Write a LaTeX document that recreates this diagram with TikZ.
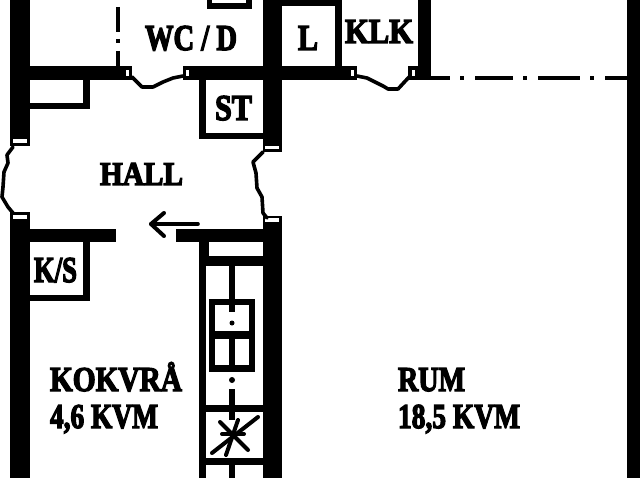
\documentclass[tikz,border=0pt]{standalone}
\usepackage{fontspec}
\setmainfont[FakeBold=4]{Liberation Serif Bold}
\newcommand{\lbl}[6]{\node[anchor=base west,inner sep=0pt,outer sep=0pt] (#1) at (#2,#3) {\resizebox{#4\unitlength}{#5\unitlength}{\rule{0pt}{.66em}\smash{#6}}};}
\setlength{\unitlength}{0.75pt}
\tikzset{
  wall/.style={fill=black,draw=none},
  hole/.style={fill=white,draw=none},
  thinl/.style={draw=black,line width=3pt,line join=round,line cap=round},
  doorl/.style={draw=black,line width=2.7pt,line join=round,line cap=round},
  dashl/.style={draw=black,line width=3.6pt}
}
\begin{document}
\begin{tikzpicture}[x=0.75pt,y=-0.75pt]
\useasboundingbox (0,0) rectangle (640,478);
\fill[white] (0,0) rectangle (640,478);
% main walls
\fill[wall] (10,0) rectangle (30,146);
\fill[wall] (10,212) rectangle (30,478);
\fill[wall] (263,0) rectangle (282,152);
\fill[wall] (263,216) rectangle (282,478);
\fill[wall] (418,0) rectangle (431,80);
\fill[wall] (627,0) rectangle (640,478);
% horizontal walls
\fill[wall] (30,66) rectangle (132,80);
\fill[wall] (183,66) rectangle (357,80);
\fill[wall] (408,66) rectangle (431,80);
\fill[wall] (10,229) rectangle (116,242);
\fill[wall] (176,229) rectangle (282,242);
% door jamb slits
\fill[hole] (13,139) rectangle (27,143);
\fill[hole] (13,215) rectangle (27,219);
\fill[hole] (265,146) rectangle (279,149);
\fill[hole] (265,218) rectangle (279,222);
\fill[hole] (126,70) rectangle (129,76);
\fill[hole] (186,70) rectangle (189,76);
\fill[hole] (351,70) rectangle (354,76);
\fill[hole] (412,70) rectangle (415,76);
% top box, L box
\fill[wall] (207,0) rectangle (252,9);
\fill[hole] (212,0) rectangle (246,3);
\fill[wall] (282,0) rectangle (342,6);
\fill[wall] (335,0) rectangle (342,66);
% closet under top-left
\fill[wall] (83,80) rectangle (90,109);
\fill[wall] (30,103) rectangle (90,109);
% ST box
\fill[wall] (199,80) rectangle (206,139);
\fill[wall] (199,133) rectangle (263,139);
% KS box
\fill[wall] (83,242) rectangle (90,301);
\fill[wall] (30,295) rectangle (90,301);
% kitchen units
\fill[wall] (199,229) rectangle (206,478);
\fill[wall] (206,242) rectangle (209,256);
\fill[wall] (206,256) rectangle (263,266);
\fill[wall] (206,405) rectangle (263,412);
\fill[wall] (206,458) rectangle (263,465);
\fill[wall] (229,266) rectangle (235,300);
\fill[wall] (209,299) rectangle (255,372);
\fill[hole] (215,305) rectangle (249,331);
\fill[hole] (215,339) rectangle (229,365);
\fill[hole] (235,339) rectangle (249,365);
\fill[wall] (229,305) rectangle (235,312);
\fill[wall] (232,323) circle (2.5);
\fill[wall] (232,380) circle (3);
\fill[wall] (229,389) rectangle (235,405);
\fill[wall] (229,412) rectangle (235,420);
\fill[wall] (229,465) rectangle (235,478);
\draw[thinl] (212,453) -- (258,417);
\draw[thinl] (220,422) -- (248,450);
\draw[thinl] (238,420) -- (226,455);
\draw[thinl] (222,434) -- (244,434);
% door curves
\draw[doorl] (13,147) -- (7,155) -- (8,163) -- (4,172) -- (3,187) -- (2,197) -- (8,207) -- (13,213);
\draw[doorl] (263,152) -- (253,162) -- (256,173) -- (257,188) -- (262,197) -- (263,213) -- (267,218);
\draw[doorl] (132,77) -- (142,87) -- (153,87) -- (163,82) -- (173,78) -- (183,76);
\draw[doorl] (357,76) -- (367,78) -- (383,86) -- (388,89) -- (398,89) -- (410,76);
% dash-dot partitions
\draw[dashl] (118,7) -- (118,32);
\draw[dashl] (118,39) -- (118,43);
\draw[dashl] (118,51) -- (118,66);
\draw[dashl] (431,78) -- (450,78);
\draw[dashl] (460,78) -- (464,78);
\draw[dashl] (475,78) -- (513,78);
\draw[dashl] (523,78) -- (527,78);
\draw[dashl] (538,78) -- (580,78);
\draw[dashl] (590,78) -- (594,78);
\draw[dashl] (605,78) -- (628,78);
% arrow
\coordinate (arrowtail) at (198,224);
\coordinate (arrowhead) at (151,224);
\draw[doorl] (arrowtail) -- (arrowhead);
\draw[doorl,line width=3pt] (164,213) -- (arrowhead) -- (164,236);
% labels
\lbl{wcd}{145}{50}{92}{24}{WC / D}
\lbl{l}{298}{50}{20}{24}{L}
\lbl{st}{215}{120}{37}{24}{ST}
\lbl{klk}{345}{43}{68}{23}{KLK}
\lbl{hall}{100}{185}{83}{22}{HALL}
\lbl{ks}{34}{282}{43}{24}{K/S}
\lbl{kok}{50}{391}{132}{23}{KOKVRÅ}
\lbl{kvma}{50}{428}{108}{23}{4,6 KVM}
\lbl{rum}{398}{391}{67}{23}{RUM}
\lbl{kvmb}{398}{428}{122}{23}{18,5 KVM}
\end{tikzpicture}
\end{document}
